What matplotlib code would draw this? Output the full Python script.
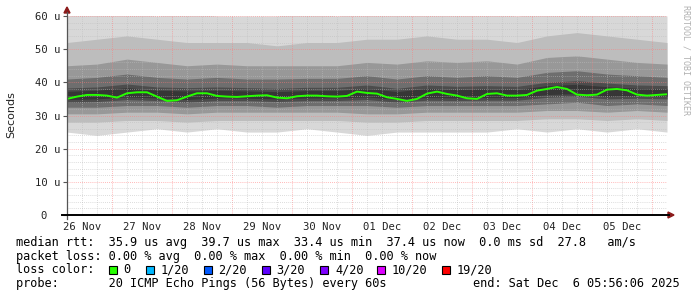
import matplotlib
matplotlib.use("Agg")
import matplotlib.pyplot as plt
from matplotlib.lines import Line2D
from matplotlib.patches import Rectangle, Polygon
import numpy as np

W, H = 697, 297
MONO = "DejaVu Sans Mono"

# graph starts Wed Nov 26 05:56:06 2025, 10 days wide (x in hours from start)
start_hour = 5 + 56 / 60 + 6 / 3600
day_labels = ["26 Nov", "27 Nov", "28 Nov", "29 Nov", "30 Nov",
              "01 Dec", "02 Dec", "03 Dec", "04 Dec", "05 Dec"]

# median rtt (us), one value every 4 h
median_hours = np.arange(0, 241, 4)
median_rtt = [35.0, 35.7, 36.2, 36.2, 36.0, 35.4, 36.7, 37.0, 37.0, 35.7,
              34.4, 34.6, 35.7, 36.7, 36.7, 35.9, 35.7, 35.6, 35.8, 36.0,
              36.1, 35.4, 35.2, 35.8, 36.0, 36.0, 35.8, 35.7, 35.9, 37.2,
              36.8, 36.6, 35.5, 35.0, 34.4, 35.0, 36.6, 37.2, 36.5, 36.0,
              35.2, 35.0, 36.5, 36.7, 36.0, 36.0, 36.2, 37.5, 38.0, 38.6,
              38.0, 36.3, 36.1, 36.3, 37.8, 38.0, 37.6, 36.3, 36.0, 36.2,
              36.4]

# smoke: sorted ping ranks (us), one value every 12 h
smoke_hours = np.arange(0, 241, 12)
ping_min = [25, 24, 25, 26, 25, 26, 25, 25, 26, 25, 24, 25, 25, 25, 25, 26, 25, 26, 25, 26, 25]
ping_2 = [28, 28, 28.5, 28.5, 28, 28.5, 28.5, 28.5, 28.5, 28.5, 28, 28, 28.5, 28.5, 28.5, 28.5, 29, 29, 28.5, 29, 28.5]
ping_4 = [30.5, 30.5, 31, 31, 30.5, 31, 31, 31, 31, 31, 30.5, 30.5, 31, 31, 31, 31, 31.5, 31.5, 31, 31.5, 31]
ping_6 = [32.5, 32.5, 33, 33, 32.5, 33, 33, 32.5, 33, 33, 33, 32.5, 33, 33, 33, 33, 33.5, 34, 33, 33.5, 33]
ping_8 = [34, 34.2, 34.8, 34.5, 34, 34.5, 34.5, 34.2, 34.5, 34.5, 34.8, 34, 34.6, 34.5, 34.6, 34.6, 35.5, 35.8, 35, 35.2, 35]
ping_9 = [34.8, 35.0, 35.6, 35.3, 34.8, 35.3, 35.2, 35.0, 35.3, 35.3, 35.6, 34.8, 35.4, 35.3, 35.4, 35.4, 36.3, 36.6, 35.8, 36.0, 35.8]
ping_12 = [37.3, 37.6, 38.4, 37.6, 37.4, 37.6, 37.4, 37.2, 37.5, 37.5, 38.2, 37.2, 38.2, 37.8, 38.0, 37.8, 39.0, 39.4, 38.7, 38.2, 38.0]
ping_13 = [38.3, 38.6, 39.5, 38.6, 38.4, 38.6, 38.4, 38.2, 38.5, 38.5, 39.2, 38.2, 39.2, 38.8, 39, 38.8, 40, 40.5, 39.8, 39.2, 39]
ping_15 = [41, 41.5, 42.5, 41.5, 41, 41.5, 41, 41, 41.2, 41.2, 42, 41, 42, 41.5, 42, 41.5, 43, 43.5, 42.5, 42, 41.5]
ping_17 = [45, 45.5, 47, 46, 45, 45.5, 45, 45, 45, 45, 46, 45.5, 46.5, 46, 46.5, 45.5, 47.5, 48, 47, 46, 45.5]
ping_19 = [52, 53, 54, 53, 52, 52, 52, 51, 52, 52, 53, 53, 54, 53, 53, 52, 54, 55, 54, 53, 52]
ping_max = [60, 61, 61, 60, 61, 60, 60, 60, 61, 60, 61, 61, 61, 61, 61, 60, 61, 61, 61, 61, 60]

loss_labels = ["0", "1/20", "2/20", "3/20", "4/20", "10/20", "19/20"]
loss_colors = ["#26ff00", "#00b8ff", "#0059ff", "#5e00ff", "#7e00ff", "#dd00ff", "#ff0000"]


def fx(x):
    return x / W


def fy(y):
    return 1 - y / H


fig = plt.figure(figsize=(W / 100, H / 100), dpi=100)
fig.patch.set_facecolor("white")
ax = fig.add_axes([fx(67), fy(215), 600 / W, 199 / H])
ax.set_xlim(0, 240)
ax.set_ylim(0, 60)
for s in ax.spines.values():
    s.set_visible(False)

bands = [(ping_min, ping_max, "#d8d8d8"),
         (ping_2, ping_19, "#bdbdbd"),
         (ping_4, ping_17, "#989898"),
         (ping_6, ping_15, "#6e6e6e"),
         (ping_8, ping_13, "#4c4c4c"),
         (ping_9, ping_12, "#363636")]
for lo, hi, c in bands:
    ax.fill_between(smoke_hours, lo, hi, color=c, lw=0, zorder=1)

# grid
dots = (0, (1, 1.5))
midnights = [(24 - start_hour) + 24 * k for k in range(10)]
six_hours = [h for h in np.arange((6 - start_hour) % 6, 240, 6)
             if min(abs(h - m) for m in midnights) > 0.5]
for h in six_hours:
    ax.axvline(h, color="#bdbdbd", lw=0.6, ls=dots, zorder=2, alpha=0.7)
for m in midnights:
    ax.axvline(m, color="#ff7a7a", lw=0.6, ls=dots, zorder=2, alpha=0.7)
for v in range(2, 60, 2):
    if v % 10:
        ax.axhline(v, color="#bdbdbd", lw=0.6, ls=dots, zorder=2, alpha=0.7)
for v in range(10, 61, 10):
    ax.axhline(v, color="#ff7a7a", lw=0.6, ls=dots, zorder=2, alpha=0.7)

ax.plot(median_hours, median_rtt, color=loss_colors[0], lw=1.4, zorder=4)

ax.set_yticks(range(0, 61, 10))
ax.set_yticklabels(["0  "] + ["%d u" % v for v in range(10, 61, 10)])
ax.tick_params(axis="y", length=3, width=0.8, color="#555555", pad=2,
               labelsize=7.6, labelcolor="#222222")
ax.set_xticks([(12 - start_hour) + 24 * k for k in range(10)])
ax.set_xticklabels(day_labels)
ax.tick_params(axis="x", length=0, pad=5, labelsize=7.6, labelcolor="#222222")
for lab in ax.get_xticklabels() + ax.get_yticklabels():
    lab.set_family(MONO)

# axes with arrows
fig.add_artist(Line2D([fx(67), fx(67)], [fy(219), fy(12)], color="#555555", lw=0.9))
fig.add_artist(Line2D([fx(62), fx(669)], [fy(215), fy(215)], color="black", lw=1.4))
fig.add_artist(Polygon([[fx(67), fy(7)], [fx(64), fy(13)], [fx(70), fy(13)]],
                       closed=True, color="#8b1a1a", transform=fig.transFigure))
fig.add_artist(Polygon([[fx(674), fy(215)], [fx(668), fy(212)], [fx(668), fy(218)]],
                       closed=True, color="#8b1a1a", transform=fig.transFigure))

fig.text(fx(11), fy(115), "Seconds", rotation=90, ha="center", va="center",
         fontsize=8, color="#222222")
fig.text(fx(686), fy(60), "RRDTOOL / TOBI OETIKER", rotation=270, ha="center",
         va="center", fontsize=6, color="#b0b0b0", family=MONO)

fs = 8.55
fig.text(fx(16), fy(246), "median rtt:  35.9 us avg  39.7 us max  33.4 us min  "
         "37.4 us now  0.0 ms sd  27.8   am/s", family=MONO, fontsize=fs, va="baseline")
fig.text(fx(16), fy(259.7), "packet loss: 0.00 % avg  0.00 % max  0.00 % min  0.00 % now",
         family=MONO, fontsize=fs, va="baseline")
fig.text(fx(16), fy(273.4), "loss color:", family=MONO, fontsize=fs, va="baseline")
box_left = [108.5, 145.5, 203.5, 261.5, 320, 377, 442]
for bx, lab, c in zip(box_left, loss_labels, loss_colors):
    fig.add_artist(Rectangle((fx(bx), fy(273.5)), 8 / W, 8 / H, transform=fig.transFigure,
                             facecolor=c, edgecolor="black", lw=0.8))
    fig.text(fx(bx + 15), fy(273.4), lab, family=MONO, fontsize=fs, va="baseline")
fig.text(fx(16), fy(287), "probe:       20 ICMP Echo Pings (56 Bytes) every 60s",
         family=MONO, fontsize=fs, va="baseline")
fig.text(fx(680), fy(287), "end: Sat Dec  6 05:56:06 2025", family=MONO, fontsize=fs,
         va="baseline", ha="right")

fig.savefig("out.png", dpi=100)
